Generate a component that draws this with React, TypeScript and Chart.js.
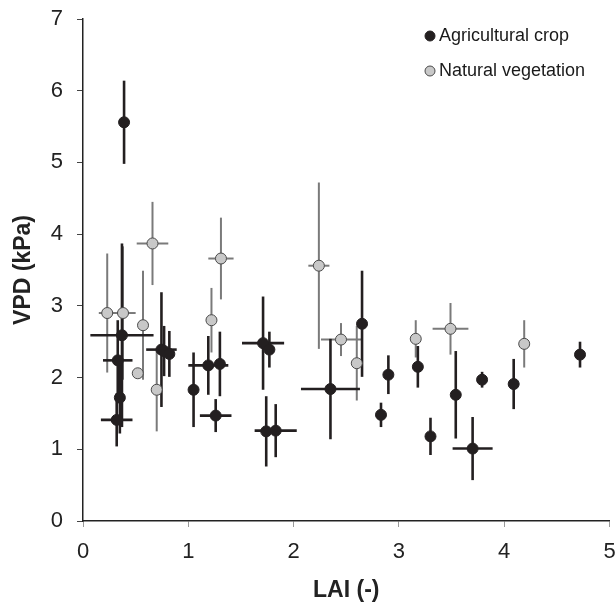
import React, { useEffect, useRef } from "react";
import { Chart, registerables } from "chart.js";

Chart.register(...registerables);

const FONT = '"Liberation Sans", Arial, Helvetica, sans-serif';

// Agricultural crop
const cropLAI = [0.39, 0.37, 0.33, 0.35, 0.32, 0.745, 0.77, 0.82, 1.05, 1.19, 1.30, 1.26, 1.71, 1.77, 1.74, 1.83, 2.35, 2.65, 2.83, 2.90, 3.18, 3.30, 3.54, 3.70, 3.79, 4.09, 4.72];
const cropVPD = [5.56, 2.59, 2.24, 1.72, 1.41, 2.39, 2.37, 2.33, 1.83, 2.17, 2.19, 1.47, 2.48, 2.39, 1.25, 1.26, 1.84, 2.75, 1.48, 2.04, 2.15, 1.18, 1.76, 1.01, 1.97, 1.91, 2.32];
const cropLAIErr = [0, 0.30, 0.14, 0, 0.15, 0.145, 0, 0, 0, 0.19, 0, 0.15, 0.20, 0, 0, 0.20, 0.28, 0, 0, 0, 0, 0, 0, 0.19, 0, 0, 0];
const cropVPDErr = [0.58, 1.28, 0.56, 0.50, 0.37, 0.80, 0.35, 0.32, 0.52, 0.41, 0.45, 0.23, 0.65, 0.25, 0.49, 0.37, 0.70, 0.74, 0.17, 0.27, 0.29, 0.26, 0.61, 0.44, 0.11, 0.35, 0.18];

// Natural vegetation
const natLAI = [0.23, 0.38, 0.52, 0.57, 0.66, 0.70, 1.22, 1.31, 2.24, 2.45, 2.60, 3.16, 3.49, 4.19];
const natVPD = [2.90, 2.90, 2.06, 2.73, 3.87, 1.83, 2.80, 3.66, 3.56, 2.53, 2.20, 2.54, 2.68, 2.47];
const natLAIErr = [0.08, 0.12, 0, 0, 0.15, 0, 0.05, 0.12, 0.10, 0.19, 0, 0, 0.17, 0];
const natVPDErr = [0.83, 0.93, 0, 0.76, 0.58, 0.58, 0.45, 0.57, 1.16, 0.23, 0.52, 0.26, 0.36, 0.33];

const seriesNames = ["Agricultural crop", "Natural vegetation"];
const xTitle = "LAI (-)";
const yTitle = "VPD (kPa)";
const xMin = 0, xMax = 5, yMin = 0, yMax = 7;

const CROP_COLOR = "#231f20";
const NAT_FILL = "#c8c8c8";
const NAT_BORDER = "#4a4a4a";
const NAT_BAR = "#7a7a7a";

const errorBarsPlugin = {
  id: "errorBars",
  beforeDatasetsDraw(chart: any) {
    const { ctx } = chart;
    const xs = chart.scales.x;
    const ys = chart.scales.y;
    const order = [1, 0];
    ctx.save();
    for (const di of order) {
      const ds = chart.data.datasets[di];
      ctx.strokeStyle = ds.barColor;
      ctx.lineWidth = ds.barWidth;
      ctx.lineCap = "butt";
      ds.data.forEach((p: any, i: number) => {
        const xe = ds.xErr[i];
        const ye = ds.yErr[i];
        const px = xs.getPixelForValue(p.x);
        const py = ys.getPixelForValue(p.y);
        if (ye > 0) {
          ctx.beginPath();
          ctx.moveTo(px, ys.getPixelForValue(p.y - ye));
          ctx.lineTo(px, ys.getPixelForValue(p.y + ye));
          ctx.stroke();
        }
        if (xe > 0) {
          ctx.beginPath();
          ctx.moveTo(xs.getPixelForValue(p.x - xe), py);
          ctx.lineTo(xs.getPixelForValue(p.x + xe), py);
          ctx.stroke();
        }
      });
    }
    ctx.restore();
  },
};

const legendPlugin = {
  id: "customLegend",
  afterDraw(chart: any) {
    const { ctx } = chart;
    ctx.save();
    ctx.font = `18px ${FONT}`;
    ctx.textBaseline = "middle";
    ctx.textAlign = "left";
    const rows = [36, 71];
    chart.data.datasets.forEach((ds: any, i: number) => {
      const cy = rows[i];
      ctx.beginPath();
      ctx.arc(430, cy, 5, 0, Math.PI * 2);
      ctx.fillStyle = ds.backgroundColor;
      ctx.fill();
      ctx.lineWidth = 1;
      ctx.strokeStyle = ds.borderColor;
      ctx.stroke();
      ctx.fillStyle = "#1a1a1a";
      ctx.fillText(ds.label, 439, cy);
    });
    ctx.restore();
  },
};

export default function App() {
  const ref = useRef<HTMLCanvasElement | null>(null);
  useEffect(() => {
    if (!ref.current) return;
    const chart = new Chart(ref.current, {
      type: "scatter",
      data: {
        datasets: [
          {
            label: seriesNames[0],
            data: cropLAI.map((x, i) => ({ x, y: cropVPD[i] })),
            xErr: cropLAIErr,
            yErr: cropVPDErr,
            barColor: CROP_COLOR,
            barWidth: 2.6,
            backgroundColor: CROP_COLOR,
            borderColor: CROP_COLOR,
            pointRadius: 5.5,
            borderWidth: 1,
          } as any,
          {
            label: seriesNames[1],
            data: natLAI.map((x, i) => ({ x, y: natVPD[i] })),
            xErr: natLAIErr,
            yErr: natVPDErr,
            barColor: NAT_BAR,
            barWidth: 2,
            backgroundColor: NAT_FILL,
            borderColor: NAT_BORDER,
            pointRadius: 5.5,
            borderWidth: 1,
          } as any,
        ],
      },
      options: {
        animation: false,
        responsive: true,
        maintainAspectRatio: false,
        layout: { padding: { left: 0, right: 6, top: 19, bottom: 0 } },
        plugins: {
          legend: { display: false },
          tooltip: { enabled: false },
        },
        scales: {
          x: {
            type: "linear",
            min: xMin,
            max: xMax,
            afterFit: (s: any) => {
              s.height = 84;
              s.paddingLeft = 0;
              s.paddingRight = 0;
            },
            ticks: {
              stepSize: 1,
              color: "#222",
              padding: 12,
              font: { family: FONT, size: 22 },
            },
            grid: { drawOnChartArea: false, drawTicks: true, tickLength: 6, color: "#999" },
            border: { display: true, color: "#222", width: 1.5 },
            title: {
              display: true,
              text: xTitle,
              color: "#222",
              font: { family: FONT, size: 23, weight: "bold" },
              padding: { top: 0, bottom: 1 },
            },
          },
          y: {
            type: "linear",
            min: yMin,
            max: yMax,
            afterFit: (s: any) => {
              s.width = 83;
              s.paddingTop = 0;
              s.paddingBottom = 0;
            },
            ticks: {
              stepSize: 1,
              color: "#222",
              padding: 14,
              font: { family: FONT, size: 22 },
            },
            grid: { drawOnChartArea: false, drawTicks: true, tickLength: 6, color: "#444" },
            border: { display: true, color: "#222", width: 1.5 },
            title: {
              display: true,
              text: yTitle,
              color: "#222",
              font: { family: FONT, size: 23, weight: "bold" },
              padding: { top: 10, bottom: 0 },
            },
          },
        },
      },
      plugins: [errorBarsPlugin, legendPlugin],
    } as any);
    return () => chart.destroy();
  }, []);
  return (
    <div style={{ position: "absolute", left: 0, top: 0, width: 616, height: 605 }}>
      <canvas ref={ref} />
    </div>
  );
}
